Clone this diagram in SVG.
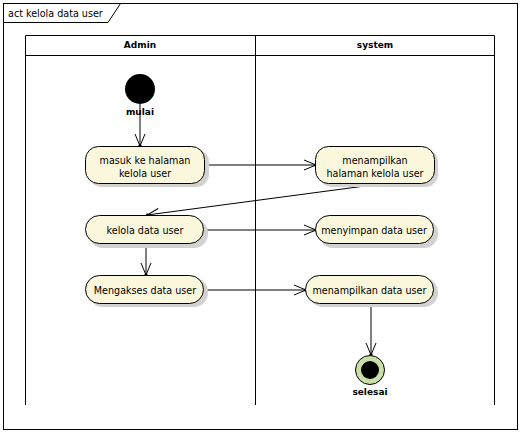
<svg xmlns="http://www.w3.org/2000/svg" width="521" height="433" viewBox="0 0 521 433">
<style>
text{font-family:"DejaVu Sans","Liberation Sans",sans-serif;fill:#000}
.t{font-size:9.6px;text-anchor:middle}
.h{font-size:9px;font-weight:bold;text-anchor:middle}
.act{fill:#FBF7DC;stroke:#000;stroke-width:1}
.sh{fill:#D2D2D2}
.ln{stroke:#000;stroke-width:1;fill:none}
.c{stroke:#000;stroke-width:1;fill:none;marker-end:url(#arr)}
</style>
<defs>
<marker id="arr" markerUnits="userSpaceOnUse" markerWidth="16" markerHeight="14" refX="14" refY="7" orient="auto" overflow="visible">
<path d="M2,2 L14,7 L2,12" fill="none" stroke="#000" stroke-width="1"/>
<circle cx="13.5" cy="7" r="1.5" fill="#000"/>
</marker>
</defs>
<rect width="521" height="433" fill="#fff"/>
<g id="frame">
<rect x="3.5" y="3.5" width="514" height="426" class="ln"/>
<path d="M3.5,22.5 H108 L120.5,3.5" class="ln"/>
<text x="8" y="17" style="font-size:9.6px">act kelola data user</text>
</g>
<g id="lanes">
<path d="M25.5,405 V35.5 H494.5 V405 M25.5,55.5 H494.5 M255.5,35.5 V405" class="ln"/>
<text class="h" x="140" y="48">Admin</text>
<text class="h" x="375" y="48">system</text>
</g>
<g id="connectors">
<line x1="140" y1="104" x2="140" y2="146" class="c"/>
<line x1="205" y1="165" x2="316" y2="165" class="c"/>
<line x1="380" y1="184" x2="147" y2="215" class="c"/>
<line x1="204" y1="230" x2="316" y2="230" class="c"/>
<line x1="146" y1="244" x2="146" y2="275" class="c"/>
<line x1="204" y1="290" x2="306" y2="290" class="c"/>
<line x1="371" y1="304" x2="371" y2="355" class="c"/>
</g>
<g id="mulai">
<circle cx="140" cy="89" r="15" fill="#000"/>
<text class="h" x="140" y="115">mulai</text>
</g>
<g id="masuk">
<rect x="89" y="149" width="120" height="38" rx="13" class="sh"/>
<rect x="85.5" y="146.5" width="119" height="37" rx="13" class="act"/>
<text class="t" x="145" y="164">masuk ke halaman</text>
<text class="t" x="145" y="177">kelola user</text>
</g>
<g id="menampilkan-halaman">
<rect x="319" y="149" width="119" height="38" rx="13" class="sh"/>
<rect x="315.5" y="146.5" width="119" height="37" rx="13" class="act"/>
<text class="t" x="375" y="164">menampilkan</text>
<text class="t" x="375" y="177">halaman kelola user</text>
</g>
<g id="kelola">
<rect x="89" y="219" width="119" height="29" rx="14" class="sh"/>
<rect x="85.5" y="215.5" width="118" height="28" rx="14" class="act"/>
<text class="t" x="145" y="233.5">kelola data user</text>
</g>
<g id="menyimpan">
<rect x="319" y="219" width="119" height="29" rx="14" class="sh"/>
<rect x="315.5" y="215.5" width="118" height="28" rx="14" class="act"/>
<text class="t" x="374" y="233.5">menyimpan data user</text>
</g>
<g id="mengakses">
<rect x="89" y="278" width="119" height="29" rx="14" class="sh"/>
<rect x="85.5" y="275.5" width="118" height="28" rx="14" class="act"/>
<text class="t" x="145" y="293.5">Mengakses data user</text>
</g>
<g id="menampilkan-data">
<rect x="309" y="278" width="129" height="29" rx="14" class="sh"/>
<rect x="305.5" y="275.5" width="128" height="28" rx="14" class="act"/>
<text class="t" x="369.5" y="293.5">menampilkan data user</text>
</g>
<g id="selesai">
<circle cx="370" cy="370" r="14.5" fill="#C8DFA6" stroke="#000" stroke-width="1"/>
<circle cx="370" cy="370" r="9" fill="#000"/>
<text class="h" x="370" y="395">selesai</text>
</g>
</svg>
